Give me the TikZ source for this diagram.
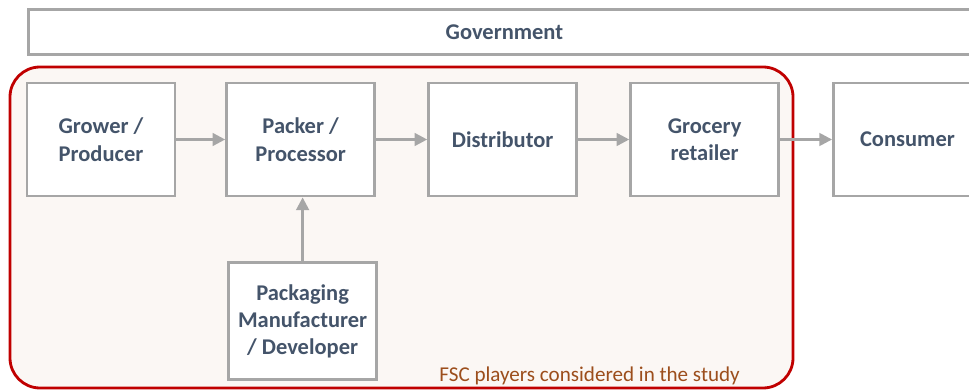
\documentclass[tikz,border=0pt]{standalone}
\usepackage{fontspec}
\setmainfont{Carlito}
\usepackage{xcolor}
\usetikzlibrary{positioning,arrows.meta}
\definecolor{slate}{HTML}{44546A}
\definecolor{boxgray}{HTML}{A6A6A6}
\definecolor{fscred}{HTML}{C00000}
\definecolor{fscfill}{HTML}{FBF7F4}
\definecolor{fsctext}{HTML}{9C4E1C}
\tikzset{
  player/.style={draw=boxgray, line width=2pt, fill=white, minimum width=3.7cm,
    minimum height=2.825cm, align=center, text=slate, font=\fontsize{16}{19.5}\selectfont\bfseries},
  flow/.style={-{Triangle[length=9pt,width=9pt]}, draw=boxgray, line width=1.8pt}
}

\begin{document}
\begin{tikzpicture}
                \useasboundingbox (0,0) rectangle (24.225,9.75);
                \draw[fscred, line width=2pt, fill=fscfill, rounded corners=0.75cm] (0.25,0.05) rectangle (19.825,8.075);

                \node[player, minimum width=23.8cm, minimum height=1.125cm, anchor=north west] (gov) at (0.675,9.55) {Government};

                \node[player] (grower) at (2.525,6.2625) {Grower /\\Producer};
                \node[player, right=1.22cm of grower] (packer) {Packer /\\Processor};
                \node[player, right=1.28cm of packer] (distributor) {Distributor};
                \node[player, right=1.28cm of distributor] (grocery) {Grocery\\retailer};
                \node[player, right=1.3cm of grocery] (consumer) {Consumer};
                \node[player, minimum height=2.925cm, below=1.6cm of packer, xshift=0.05cm] (packaging) {Packaging\\Manufacturer\\/ Developer};

                \draw[flow] (grower) -- (packer);
                \draw[flow] (packer) -- (distributor);
                \draw[flow] (distributor) -- (grocery);
                \draw[flow] (grocery) -- (consumer);
                \draw[flow] (packaging) -- (packaging |- packer.south);

                \node[anchor=base east, text=fsctext, font=\fontsize{15}{18}\selectfont] (study) at (18.62,0.22) {FSC players considered in the study};
            \end{tikzpicture}
\end{document}
